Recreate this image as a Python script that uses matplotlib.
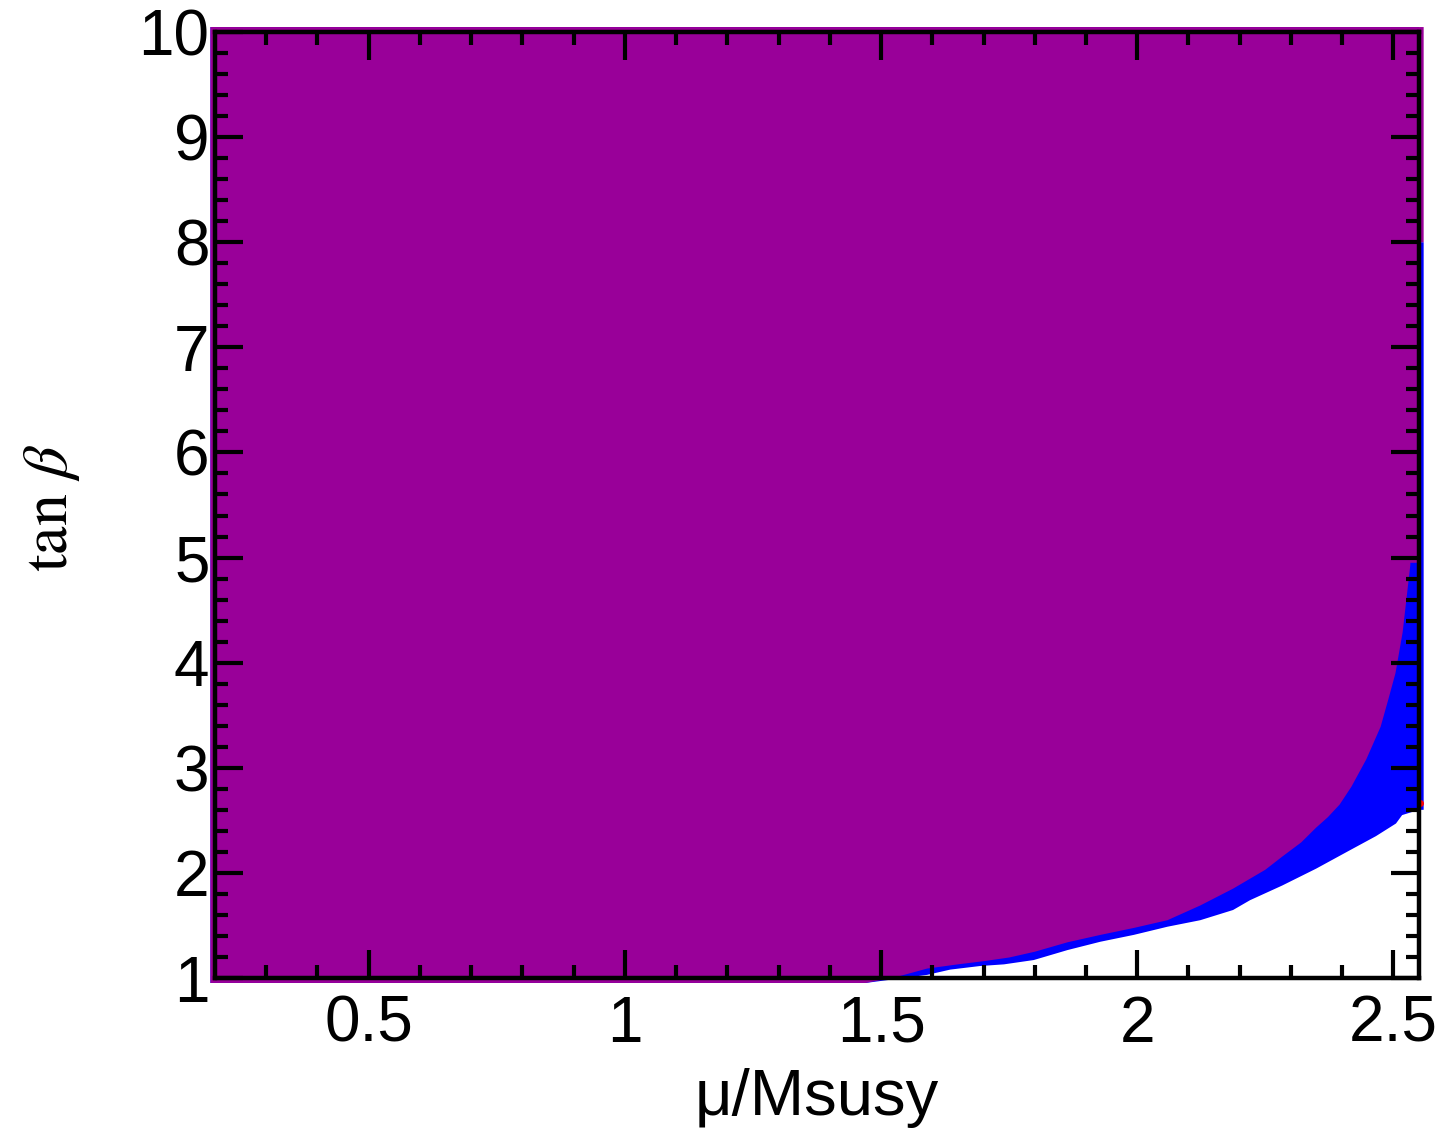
import numpy as np
import matplotlib
matplotlib.use("Agg")
import matplotlib.pyplot as plt

plt.rcParams["font.family"] = ["Liberation Sans", "DejaVu Sans"]
plt.rcParams["mathtext.fontset"] = "stix"

# Scan limits
x_min, x_max = 0.2, 2.55
y_min, y_max = 1.0, 10.0

# Lower edge of the region allowed by both constraints (purple)
mu_purple = [1.47, 1.53, 1.59, 1.65, 1.70, 1.75, 1.80, 1.864, 1.928, 1.993,
             2.059, 2.123, 2.187, 2.25, 2.283, 2.32, 2.349, 2.372, 2.395,
             2.418, 2.447, 2.475, 2.49, 2.504, 2.518, 2.533]
tb_purple = [0.953, 1.01, 1.09, 1.13, 1.16, 1.195, 1.25, 1.34, 1.41, 1.476,
             1.55, 1.69, 1.85, 2.03, 2.155, 2.29, 2.43, 2.53, 2.65,
             2.82, 3.08, 3.39, 3.65, 3.90, 4.29, 4.93]

# Lower edge of the region allowed by the first constraint only (blue)
mu_blue = [1.47, 1.59, 1.635, 1.693, 1.74, 1.798, 1.864, 1.928, 1.993, 2.059,
           2.123, 2.187, 2.22, 2.283, 2.349, 2.413, 2.466, 2.505, 2.517, 2.55]
tb_blue = [0.953, 1.03, 1.08, 1.114, 1.13, 1.171, 1.266, 1.345, 1.41, 1.488,
           1.55, 1.647, 1.74, 1.88, 2.04, 2.21, 2.35, 2.47, 2.55, 2.60]

# Last scanned column and the single red point on it
edge_blue_lo, edge_blue_hi = 2.60, 8.0
red_point = (2.552, 2.665)

purple = "#990099"
blue = "#0000ff"

fig = plt.figure(figsize=(14.43, 11.30), dpi=100)
ax = fig.add_axes([0.149, 0.1345, 0.8344, 0.8372])
ax.set_axisbelow(False)

# markers spill a few pixels past the frame
dx, dy = 0.009, 0.047
xl, xr = x_min - dx, x_max + dx
yb, yt = y_min - dy, y_max + dy

# blue region
bx = [xl] + mu_blue + [x_max, xr, xr, x_max, x_max, xl]
by = [yb] + tb_blue + [edge_blue_lo, edge_blue_lo, edge_blue_hi, edge_blue_hi, yt, yt]
ax.fill(bx, by, color=blue, lw=0, clip_on=False, zorder=1)

# purple region
px = [xl] + mu_purple + [mu_purple[-1], x_max, x_max, xr, xr, xl]
py = [yb] + tb_purple + [tb_purple[-1] + 0.02, tb_purple[-1] + 0.02,
                         edge_blue_hi, edge_blue_hi, yt, yt]
ax.fill(px, py, color=purple, lw=0, clip_on=False, zorder=1.2)

ax.plot([red_point[0]], [red_point[1]], "o", color="red", ms=4,
        clip_on=False, zorder=1.4)

ax.set_xlim(x_min, x_max)
ax.set_ylim(y_min, y_max)

ax.set_xticks([0.5, 1.0, 1.5, 2.0, 2.5])
ax.set_xticklabels(["0.5", "1", "1.5", "2", "2.5"])
ax.set_xticks(np.arange(0.3, 2.55, 0.1), minor=True)
ax.set_yticks(np.arange(1, 11, 1))
ax.set_yticklabels([str(v) for v in range(1, 11)])
ax.set_yticks(np.arange(1.2, 10.0, 0.2), minor=True)

ax.tick_params(which="both", direction="in", top=True, right=True,
               width=3, color="black", labelsize=46)
ax.tick_params(which="major", length=20)
ax.tick_params(which="minor", length=9.5)
ax.tick_params(axis="x", which="major", pad=12)
ax.tick_params(axis="y", which="major", pad=4)

for sp in ax.spines.values():
    sp.set_linewidth(3.2)
    sp.set_zorder(5)

ax.set_xlabel("μ/Msusy", fontsize=47)
ax.xaxis.set_label_coords(0.5, -0.1448)
ax.xaxis.label.set_va("baseline")

ax.set_ylabel(r"$\tan\,\beta$", fontsize=46)
ax.yaxis.set_label_coords(-0.1105, 0.497)

fig.savefig("out.png", dpi=100)
